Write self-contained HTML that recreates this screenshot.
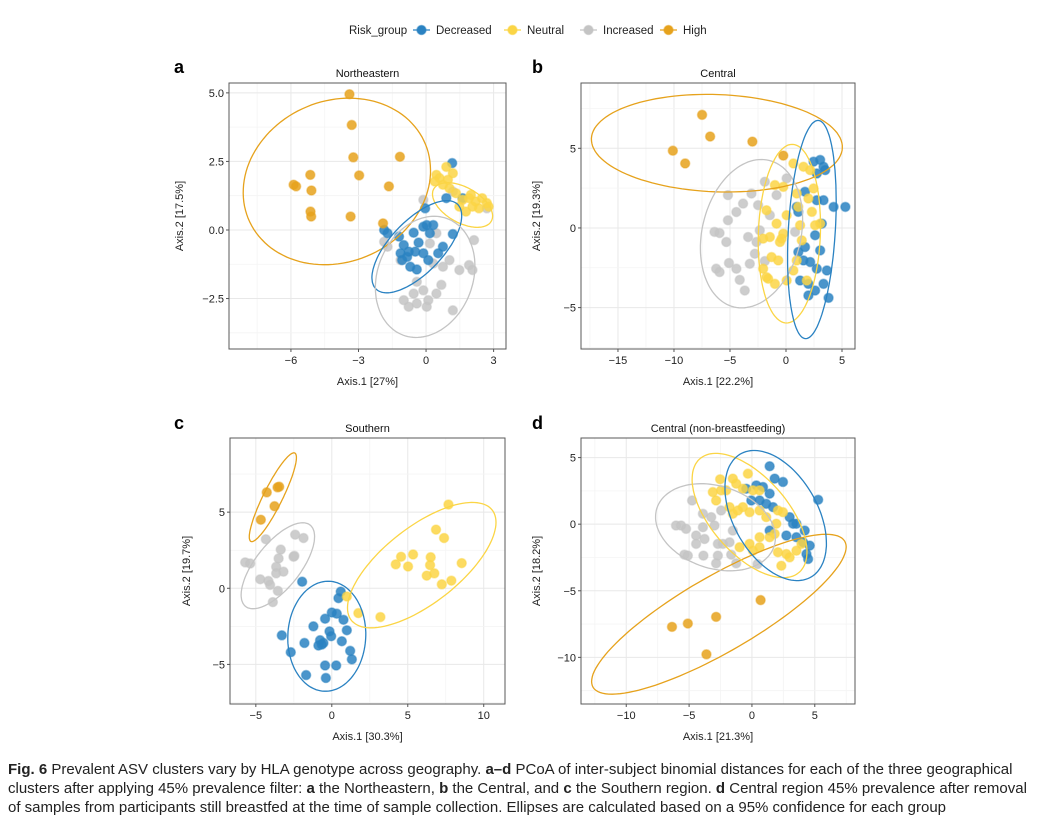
<!DOCTYPE html>
<html><head><meta charset="utf-8"><style>
html,body{margin:0;padding:0;background:#fff;}
body{width:1038px;height:827px;overflow:hidden;position:relative;font-family:"Liberation Sans",sans-serif;}
#cap{position:absolute;left:8px;top:760px;font-size:15px;line-height:19.2px;color:#222;white-space:nowrap;}
</style></head><body>
<svg id="chart" width="1038" height="750" style="position:absolute;left:0;top:0" font-family="Liberation Sans, sans-serif"></svg>
<div id="cap"><b>Fig. 6</b> Prevalent ASV clusters vary by HLA genotype across geography. <b>a–d</b> PCoA of inter-subject binomial distances for each of the three geographical<br>clusters after applying 45% prevalence filter: <b>a</b> the Northeastern, <b>b</b> the Central, and <b>c</b> the Southern region. <b>d</b> Central region 45% prevalence after removal<br>of samples from participants still breastfed at the time of sample collection. Ellipses are calculated based on a 95% confidence for each group</div>
<script>
// ---- data (x,y pairs in axis units) ----
const groups=["Decreased","Neutral","Increased","High"];
const aHigh=[[-3.4,4.95],[-3.3,3.83],[-3.23,2.65],[-1.16,2.67],[-2.97,1.99],[-5.14,2.01],[-5.88,1.65],[-5.77,1.59],[-5.09,1.44],[-1.65,1.59],[-5.13,0.67],[-5.1,0.49],[-3.35,0.49],[-1.91,0.24]];
const aNeutral=[[0.46,2.01],[0.6,1.89],[0.9,2.3],[1.19,2.07],[0.75,1.65],[1.04,1.52],[1.33,1.34],[1.62,1.1],[1.91,1.16],[2.2,1.04],[2.49,1.16],[2.06,0.85],[2.35,0.79],[2.7,0.98],[2.78,0.85],[1.48,0.85],[1.77,0.67],[1.99,1.28],[0.39,1.77],[0.97,1.83]];
const aDecreased=[[1.16,2.44],[0.9,1.16],[1.62,1.16],[-0.04,0.79],[-1.86,0],[-1.71,-0.12],[-1.2,-0.24],[-0.12,0.12],[0.03,0.18],[0.32,0.18],[1.19,-0.15],[-0.55,-0.1],[-0.33,-0.46],[-0.99,-0.55],[-1.13,-0.85],[-0.84,-0.98],[-0.48,-0.79],[-0.12,-0.85],[0.1,-1.1],[0.54,-0.85],[-0.7,-1.34],[-0.41,-1.44],[-1.06,-1.1],[0.17,-0.12],[0.75,-0.61],[-0.77,-0.79]];
const aIncreased=[[-0.12,1.1],[-1.86,-0.43],[-1.13,-1.1],[0.17,-0.49],[0.46,-0.12],[1.04,-1.1],[1.48,-1.46],[1.91,-1.28],[2.06,-1.46],[2.13,-0.37],[-0.41,-1.89],[-0.12,-2.2],[-0.55,-2.32],[-0.99,-2.56],[-0.77,-2.8],[-0.41,-2.68],[0.1,-2.56],[0.03,-2.8],[0.46,-2.32],[0.68,-2.0],[1.19,-2.93],[0.32,-1.22],[0.75,-1.34],[-1.71,-0.61],[1.19,1.4],[2.7,0.79]];
// ellipse: [cx, cy, ax, ay, bx, by] in axis units
const aEllipses={High:[-3.96,1.77,4.1,0.9,-0.7,2.9],Neutral:[1.62,0.91,1.3,-0.55,0.3,0.6],Decreased:[-0.41,-0.61,1.9,1.45,-0.6,0.85],Increased:[-0.04,-1.71,2.2,0.2,0.2,2.2]};

const bHigh=[[-7.49,7.1],[-6.77,5.74],[-3.0,5.42],[-10.1,4.85],[-9.0,4.05],[-0.24,4.54]];
const bIncreased=[[-5.18,2.06],[-3.83,1.53],[-3.08,2.16],[-2.49,1.43],[-4.43,1.0],[-5.18,0.48],[-6.38,-0.25],[-5.93,-0.32],[-5.33,-0.88],[-3.38,-0.57],[-2.34,-0.15],[-2.78,-1.62],[-6.23,-2.56],[-5.93,-2.77],[-5.09,-2.2],[-4.43,-2.56],[-3.23,-2.25],[-4.13,-3.26],[-3.68,-3.93],[-1.89,2.9],[0.06,3.11],[-0.84,2.06],[-1.89,-2.08],[-1.44,0.8],[0.81,-0.25],[-2.63,-0.88]];
const bDecreased=[[2.46,4.16],[3.05,4.27],[3.35,3.84],[2.75,3.42],[3.5,3.63],[1.7,2.27],[2.75,1.74],[3.35,1.74],[4.25,1.32],[5.3,1.32],[3.2,0.27],[0.96,1.32],[1.1,1.01],[2.6,-0.46],[1.7,-1.2],[1.1,-1.51],[3.05,-1.41],[2.16,-2.14],[2.75,-2.56],[3.65,-2.67],[1.26,-3.3],[2.0,-3.51],[2.6,-3.93],[2.0,-4.24],[3.8,-4.39],[3.35,-3.51],[1.56,-2.04]];
const bNeutral=[[-1.74,1.11],[-0.24,2.58],[-0.99,2.69],[0.96,2.16],[0.66,4.05],[1.56,3.84],[2.16,3.63],[2.46,2.48],[2.0,1.85],[1.1,1.32],[0.06,0.8],[-0.84,0.27],[-1.44,-0.57],[-0.39,-0.67],[-0.54,-0.88],[-2.04,-0.67],[1.26,0.17],[2.6,0.17],[3.05,0.27],[-1.29,-1.83],[-0.69,-2.04],[-2.04,-2.56],[-1.59,-3.19],[-0.99,-3.51],[0.06,-3.3],[0.66,-2.67],[0.96,-2.04],[1.86,-3.3],[2.31,1.01],[-1.74,-3.09],[1.41,-0.78],[-0.24,-0.36]];
const bEllipses={High:[-6.17,5.32,11.2,-0.3,0.2,3.05],Increased:[-3.08,-0.36,2.0,4.5,-4.1,1.2],Neutral:[0.3,-0.36,0.4,5.6,-2.75,0.3],Decreased:[2.31,-0.1,0.55,6.85,2.1,0]};

const cHigh=[[-4.28,6.3],[-3.57,6.63],[-3.46,6.67],[-3.77,5.39],[-4.67,4.5]];
const cIncreased=[[-5.7,1.7],[-5.37,1.63],[-4.34,3.22],[-3.36,2.54],[-3.5,1.96],[-2.41,3.52],[-1.86,3.3],[-2.52,2.07],[-2.46,2.13],[-3.66,1.41],[-3.66,0.98],[-3.18,1.09],[-4.71,0.59],[-4.17,0.48],[-4.06,0.22],[-3.55,-0.17],[-3.88,-0.91]];
const cDecreased=[[-1.95,0.43],[0.59,-0.22],[0.44,-0.65],[0,-1.59],[0.33,-1.67],[-0.44,-2.0],[0.77,-2.07],[-1.21,-2.5],[-0.15,-2.83],[-0.04,-3.15],[0.99,-2.76],[0.66,-3.48],[-0.77,-3.41],[-0.66,-3.7],[-0.88,-3.76],[-1.8,-3.59],[-3.29,-3.09],[-2.7,-4.2],[1.21,-4.11],[1.32,-4.67],[-0.44,-5.07],[0.29,-5.07],[-1.69,-5.7],[-0.39,-5.89],[-0.55,-3.59]];
const cNeutral=[[7.68,5.5],[6.86,3.85],[7.39,3.3],[4.56,2.07],[5.35,2.22],[6.51,2.04],[4.21,1.57],[5.02,1.43],[6.47,1.52],[8.55,1.65],[6.25,0.83],[6.75,0.98],[7.87,0.5],[7.24,0.26],[0.99,-0.54],[1.75,-1.63],[3.2,-1.89]];
const cEllipses={High:[-3.88,5.98,1.45,2.9,-0.55,0.3],Increased:[-3.55,1.48,2.2,2.6,-1.0,1.1],Decreased:[-0.33,-3.15,0.3,3.6,2.55,-0.3],Neutral:[5.92,1.52,4.65,3.6,-1.5,2.0]};

const dHigh=[[0.69,-5.7],[-2.85,-6.96],[-5.1,-7.46],[-6.36,-7.71],[-3.62,-9.77]];
const dIncreased=[[-4.76,1.78],[-6.04,-0.1],[-5.64,-0.1],[-5.24,-0.35],[-4.44,-0.85],[-4.44,-1.48],[-3.9,-0.23],[-3.77,-1.11],[-2.98,-0.1],[-2.45,1.03],[-1.52,-0.48],[-2.71,-1.48],[-2.31,-1.48],[-1.78,-1.36],[-5.37,-2.29],[-5.1,-2.36],[-3.86,-2.36],[-2.71,-2.36],[-2.85,-2.94],[-1.25,-2.94],[-1.65,-2.29],[0.45,-2.99],[-3.24,0.53],[-3.9,0.78]];
const dDecreased=[[1.41,4.35],[1.81,3.42],[2.47,3.17],[-0.45,2.66],[0.35,2.91],[0.88,2.79],[1.41,2.29],[0.61,1.78],[-0.05,1.78],[1.14,1.53],[5.27,1.83],[3.0,0.53],[3.54,0.03],[1.41,-0.48],[2.74,-0.85],[4.2,-0.48],[4.07,-1.36],[4.6,-1.61],[4.34,-2.24],[4.47,-2.61],[3.54,-0.98],[3.27,0.03],[1.68,1.28]];
const dNeutral=[[-2.53,3.37],[-1.52,3.42],[-0.32,3.79],[-3.11,2.41],[-2.85,1.78],[-2.05,2.54],[-1.25,3.04],[-0.72,2.66],[0.08,2.54],[0.61,2.54],[-1.78,1.28],[-1.52,0.78],[-0.72,1.28],[-0.19,0.9],[0.61,1.03],[1.14,0.53],[2.07,1.03],[2.47,0.9],[0.61,-0.98],[1.41,-0.98],[1.81,-0.73],[-0.98,-1.73],[-0.19,-1.48],[0.08,-1.99],[0.61,-1.73],[2.07,-2.11],[2.74,-2.24],[3.0,-2.49],[2.34,-3.12],[3.94,-1.48],[3.54,-1.99],[-1.12,1.03],[-2.45,2.54],[1.94,0.03]];
const dEllipses={High:[-2.63,-6.76,10.0,5.5,-1.6,2.4],Increased:[-2.9,-0.23,4.7,-1.3,0.8,3.0],Neutral:[-0.19,0.65,4.2,-4.0,1.8,2.4],Decreased:[1.89,0.65,3.0,-4.5,2.7,1.9]};

const aXTicks=[-6,-3,0,3], aYTicks=[-2.5,0,2.5,5], aYLabels=["−2.5","0.0","2.5","5.0"];
const bXTicks=[-15,-10,-5,0,5], bYTicks=[-5,0,5];
const cXTicks=[-5,0,5,10], cYTicks=[-5,0,5];
const dXTicks=[-10,-5,0,5], dYTicks=[-10,-5,0,5];

const colors={Decreased:"#2a82c2",Neutral:"#fbd545",Increased:"#c4c4c4",High:"#e6a21c"};
const NS="http://www.w3.org/2000/svg";
const svg=document.getElementById('chart');
function mk(tag,attrs,parent){const e=document.createElementNS(NS,tag);for(const k in attrs)e.setAttribute(k,attrs[k]);(parent||svg).appendChild(e);return e;}
function fmt(v){return (v<0?"−":"")+Math.abs(v);}

const panels=[
 {id:"a",title:"Northeastern",xlab:"Axis.1 [27%]",ylab:"Axis.2 [17.5%]",L:229,R:506,T:83,B:349,x0:-8.75,x1:3.55,y0:-4.34,y1:5.36,xt:aXTicks,yt:aYTicks,yl:aYLabels,
  pts:{Increased:aIncreased,Decreased:aDecreased,Neutral:aNeutral,High:aHigh},ell:aEllipses,lx:174,ly:73,yx:183},
 {id:"b",title:"Central",xlab:"Axis.1 [22.2%]",ylab:"Axis.2 [19.3%]",L:581,R:855,T:83,B:349,x0:-18.3,x1:6.16,y0:-7.6,y1:9.1,xt:bXTicks,yt:bYTicks,
  pts:{Increased:bIncreased,Decreased:bDecreased,Neutral:bNeutral,High:bHigh},ell:bEllipses,lx:532,ly:73,yx:540},
 {id:"c",title:"Southern",xlab:"Axis.1 [30.3%]",ylab:"Axis.2 [19.7%]",L:230,R:505,T:438,B:704,x0:-6.7,x1:11.4,y0:-7.6,y1:9.87,xt:cXTicks,yt:cYTicks,
  pts:{Increased:cIncreased,Decreased:cDecreased,Neutral:cNeutral,High:cHigh},ell:cEllipses,lx:174,ly:429,yx:190},
 {id:"d",title:"Central (non-breastfeeding)",xlab:"Axis.1 [21.3%]",ylab:"Axis.2 [18.2%]",L:581,R:855,T:438,B:704,x0:-13.6,x1:8.2,y0:-13.5,y1:6.47,xt:dXTicks,yt:dYTicks,
  pts:{Increased:dIncreased,Decreased:dDecreased,Neutral:dNeutral,High:dHigh},ell:dEllipses,lx:532,ly:429,yx:540}
];

panels.forEach(p=>{
 const g=mk('g',{});
 
 
 const sx=v=>p.L+(v-p.x0)/(p.x1-p.x0)*(p.R-p.L);
 const sy=v=>p.B-(v-p.y0)/(p.y1-p.y0)*(p.B-p.T);
 const bg=mk('rect',{x:p.L,y:p.T,width:p.R-p.L,height:p.B-p.T,fill:"#fff"},g);
 
 
 const dx=p.xt[1]-p.xt[0], dy=p.yt[1]-p.yt[0];
 for(let v=p.xt[0]-dx*3;v<=p.x1+dx;v+=dx/2){if(v<p.x0||v>p.x1)continue;const major=Math.abs((v-p.xt[0])/dx-Math.round((v-p.xt[0])/dx))<1e-6;
  const l=mk('line',{x1:sx(v),x2:sx(v),y1:p.T,y2:p.B,stroke:major?"#e8e8e8":"#f4f4f4","stroke-width":major?1:0.8},g);
  
  }
 for(let v=p.yt[0]-dy*3;v<=p.y1+dy;v+=dy/2){if(v<p.y0||v>p.y1)continue;const major=Math.abs((v-p.yt[0])/dy-Math.round((v-p.yt[0])/dy))<1e-6;
  const l=mk('line',{y1:sy(v),y2:sy(v),x1:p.L,x2:p.R,stroke:major?"#e8e8e8":"#f4f4f4","stroke-width":major?1:0.8},g);
  
  }
 ["Increased","Decreased","Neutral","High"].forEach(k=>{
  p.pts[k].forEach(d=>{
   const c=mk('circle',{cx:sx(d[0]),cy:sy(d[1]),r:4.6,fill:colors[k],"fill-opacity":0.85,stroke:colors[k],"stroke-opacity":0.45,"stroke-width":1.4},g);
   
   
  });
 });
 Object.keys(p.ell).forEach(k=>{
  const e=p.ell[k];let s="";
  for(let i=0;i<=120;i++){const t=i/120*2*Math.PI;const x=e[0]+e[2]*Math.cos(t)+e[4]*Math.sin(t);const y=e[1]+e[3]*Math.cos(t)+e[5]*Math.sin(t);
   s+=(i?"L":"M")+sx(x).toFixed(1)+","+sy(y).toFixed(1);}
  const pa=mk('path',{d:s+"Z",fill:"none",stroke:colors[k],"stroke-width":1.3},g);
  
  
 });
 const fr=mk('rect',{x:p.L,y:p.T,width:p.R-p.L,height:p.B-p.T,fill:"none",stroke:"#595959","stroke-width":1},g);
 
 
 p.xt.forEach(v=>{
  mk('line',{x1:sx(v),x2:sx(v),y1:p.B,y2:p.B+3,stroke:"#555"},g);
  const t=mk('text',{x:sx(v),y:p.B+15,"font-size":11,fill:"#222","text-anchor":"middle"},g);t.textContent=fmt(v);
  
  
 });
 p.yt.forEach((v,i)=>{
  mk('line',{x1:p.L-3,x2:p.L,y1:sy(v),y2:sy(v),stroke:"#555"},g);
  const t=mk('text',{x:p.L-5,y:sy(v)+4,"font-size":11,fill:"#222","text-anchor":"end"},g);t.textContent=p.yl?p.yl[i]:fmt(v);
  
  
 });
 const ti=mk('text',{x:(p.L+p.R)/2,y:p.T-6,"font-size":11,fill:"#111","text-anchor":"middle"},g);ti.textContent=p.title;
 
 
 const xl=mk('text',{x:(p.L+p.R)/2,y:p.B+36,"font-size":11,fill:"#222","text-anchor":"middle"},g);xl.textContent=p.xlab;
 
 
 const yc=(p.T+p.B)/2;
 const yl=mk('text',{x:p.yx,y:yc,"font-size":11,fill:"#222","text-anchor":"middle",transform:`rotate(-90 ${p.yx} ${yc})`},g);yl.textContent=p.ylab;
 
 
 const lb=mk('text',{x:p.lx,y:p.ly,"font-size":18,"font-weight":"bold",fill:"#000"},g);lb.textContent=p.id;
 
 
});

const lg=mk('g',{});


const lt=mk('text',{x:349,y:34,"font-size":11.5,fill:"#222"},lg);lt.textContent="Risk_group";
const legX=[413,504,580,660];
groups.forEach((k,i)=>{
 const x=legX[i];
 const it=mk('g',{},lg);
 
 
 mk('line',{x1:x,x2:x+17,y1:30,y2:30,stroke:colors[k],"stroke-width":1.3},it);
 mk('circle',{cx:x+8.5,cy:30,r:4.6,fill:colors[k],stroke:colors[k],"stroke-opacity":0.45,"stroke-width":1.4},it);
 const t=mk('text',{x:x+23,y:34,"font-size":11.5,fill:"#222"},it);t.textContent=k;
});
</script>
</body></html>
